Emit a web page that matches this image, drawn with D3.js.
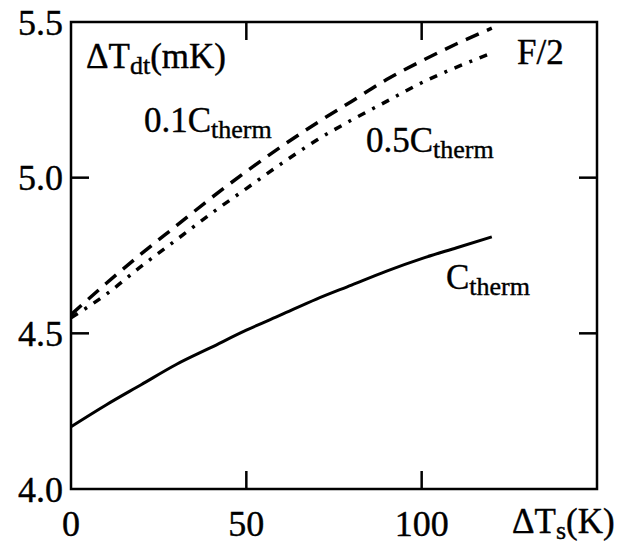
<!DOCTYPE html>
<html>
<head>
<meta charset="utf-8">
<script src="https://cdn.jsdelivr.net/npm/d3@7"></script>
<style>
  body { margin: 0; background: #fff; }
  text { font-family: "Liberation Serif", "DejaVu Serif", serif; fill: #000; stroke: #000; stroke-width: 0.4px; }
</style>
</head>
<body>
<div id="chart"></div>
<script>
// data
var xs = [0, 10, 20, 30, 40, 50, 60, 70, 80, 90, 100, 110, 120];
var cTherm = [4.20, 4.27, 4.335, 4.40, 4.455, 4.51, 4.56, 4.61, 4.655, 4.70, 4.74, 4.775, 4.81];
var c01Therm = [4.56, 4.66, 4.755, 4.845, 4.935, 5.02, 5.10, 5.175, 5.245, 5.315, 5.375, 5.43, 5.48];
var c05Therm = [4.55, 4.625, 4.715, 4.80, 4.885, 4.965, 5.045, 5.12, 5.185, 5.245, 5.305, 5.355, 5.40];
var xTicks = [0, 50, 100];
var yTicks = [4.0, 4.5, 5.0, 5.5];

var width = 633, height = 544;
var margin = { top: 22, right: 36, bottom: 55, left: 71 };

var svg = d3.select("#chart")
  .append("svg")
  .attr("width", width)
  .attr("height", height);

var x = d3.scaleLinear().domain([0, 150]).range([margin.left, width - margin.right]);
var y = d3.scaleLinear().domain([4.0, 5.5]).range([height - margin.bottom, margin.top]);

var tickLen = 18;

// frame
svg.append("rect")
  .attr("x", x(0))
  .attr("y", y(5.5))
  .attr("width", x(150) - x(0))
  .attr("height", y(4.0) - y(5.5))
  .attr("fill", "none")
  .attr("stroke", "#000")
  .attr("stroke-width", 2.5);

// inward ticks, bottom and top
var inner = xTicks.filter(function(d) { return d > 0; });
svg.append("g").selectAll("line")
  .data(inner)
  .join("line")
  .attr("x1", function(d) { return x(d); })
  .attr("x2", function(d) { return x(d); })
  .attr("y1", y(4.0))
  .attr("y2", y(4.0) - tickLen)
  .attr("stroke", "#000").attr("stroke-width", 2.5);
svg.append("g").selectAll("line")
  .data(inner)
  .join("line")
  .attr("x1", function(d) { return x(d); })
  .attr("x2", function(d) { return x(d); })
  .attr("y1", y(5.5))
  .attr("y2", y(5.5) + tickLen)
  .attr("stroke", "#000").attr("stroke-width", 2.5);

// inward ticks, left and right
var innerY = yTicks.filter(function(d) { return d > 4.0 && d < 5.5; });
svg.append("g").selectAll("line")
  .data(innerY)
  .join("line")
  .attr("x1", x(0))
  .attr("x2", x(0) + tickLen)
  .attr("y1", function(d) { return y(d); })
  .attr("y2", function(d) { return y(d); })
  .attr("stroke", "#000").attr("stroke-width", 2.5);
svg.append("g").selectAll("line")
  .data(innerY)
  .join("line")
  .attr("x1", x(150))
  .attr("x2", x(150) - tickLen)
  .attr("y1", function(d) { return y(d); })
  .attr("y2", function(d) { return y(d); })
  .attr("stroke", "#000").attr("stroke-width", 2.5);

// tick labels
svg.append("g").selectAll("text")
  .data(yTicks)
  .join("text")
  .attr("x", x(0) - 8)
  .attr("y", function(d) { return y(d); })
  .attr("dy", "0.35em")
  .attr("text-anchor", "end")
  .style("font-size", "36px")
  .text(function(d) { return d.toFixed(1); });

svg.append("g").selectAll("text")
  .data(xTicks)
  .join("text")
  .attr("x", function(d) { return x(d); })
  .attr("y", 536)
  .attr("text-anchor", "middle")
  .style("font-size", "36px")
  .text(function(d) { return d; });

// curves
var line = d3.line()
  .x(function(d, i) { return x(xs[i]); })
  .y(function(d) { return y(d); })
  .curve(d3.curveMonotoneX);

svg.append("path")
  .datum(cTherm)
  .attr("d", line)
  .attr("fill", "none")
  .attr("stroke", "#000")
  .attr("stroke-width", 3);

svg.append("path")
  .datum(c01Therm)
  .attr("d", line)
  .attr("fill", "none")
  .attr("stroke", "#000")
  .attr("stroke-width", 3.5)
  .attr("stroke-dasharray", "14,9");

svg.append("path")
  .datum(c05Therm)
  .attr("d", line)
  .attr("fill", "none")
  .attr("stroke", "#000")
  .attr("stroke-width", 3.5)
  .attr("stroke-dasharray", "8,8,3,8");

// text labels with subscripts
function label(px, py, main, sub, rest) {
  var t = svg.append("text")
    .attr("x", px)
    .attr("y", py)
    .style("font-size", "35px");
  t.append("tspan").text(main);
  if (sub) {
    t.append("tspan")
      .attr("dy", 6)
      .style("font-size", "26px")
      .text(sub);
  }
  if (rest) {
    t.append("tspan")
      .attr("dy", -6)
      .text(rest);
  }
  return t;
}

label(86, 68, "\u0394T", "dt", "(mK)");
label(144, 132, "0.1C", "therm");
label(366, 152, "0.5C", "therm");
label(446, 289, "C", "therm");
label(517, 64, "F/2");
label(512, 533, "\u0394T", "s", "(K)");
</script>
</body>
</html>
